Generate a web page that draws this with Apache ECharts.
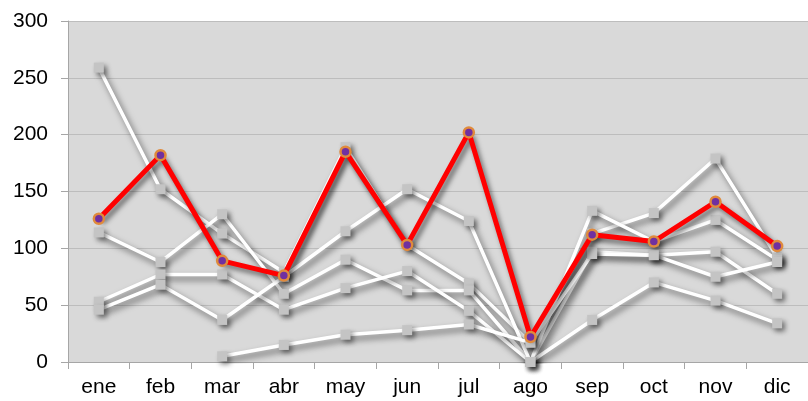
<!DOCTYPE html>
<html>
<head>
<meta charset="utf-8">
<script src="https://cdn.jsdelivr.net/npm/echarts@6/dist/echarts.min.js"></script>
<style>
	html,body{margin:0;padding:0;background:#fff;}
	#chart{width:808px;height:401px;}
</style>
</head>
<body>
<div id="chart"></div>
<script>
var months = ['ene','feb','mar','abr','may','jun','jul','ago','sep','oct','nov','dic'];

// serie destacada (roja)
var mainValues = [126,182,89,76,185,103,202,22,112,106,141,102];

// series de fondo (blancas)
var white1 = [259,152,113,79,189,103,69,17,113,131,179,92];
var white2 = [114,88,130,60,90,63,63,0,97,94,97,60];
var white3 = [53,77,77,46,65,80,45,0,37,70,54,34];
var white4 = [46,68,37,75,115,152,124,0,133,106,125,90];
var white5 = [null,null,5,15,24,28,33,17,95,94,75,88];

var yTicks = [0,50,100,150,200,250,300];

function whiteSerie(values){
	return {
		type:'line',
		data:values,
		symbol:'rect',
		symbolSize:10,
		z:2,
		lineStyle:{
			color:'#ffffff',
			width:3.5,
			shadowColor:'rgba(0,0,0,0.55)',
			shadowBlur:6,
			shadowOffsetX:3,
			shadowOffsetY:4
		},
		itemStyle:{
			color:'#c4c4c4',
			borderWidth:0,
			shadowColor:'rgba(0,0,0,0.45)',
			shadowBlur:5,
			shadowOffsetX:3,
			shadowOffsetY:3
		}
	};
}

var myChart = echarts.init(document.getElementById('chart'));
myChart.setOption({
	animation:false,
	grid:{
		left:68,
		top:21,
		bottom:39,
		right:-15,
		show:true,
		backgroundColor:'#d9d9d9',
		borderWidth:0
	},
	xAxis:{
		type:'category',
		data:months,
		boundaryGap:true,
		axisLine:{lineStyle:{color:'#a6a6a6',width:1}},
		axisTick:{show:true,length:7,lineStyle:{color:'#a6a6a6'}},
		axisLabel:{color:'#000',fontSize:21,fontFamily:'Liberation Sans',margin:15}
	},
	yAxis:{
		type:'value',
		min:yTicks[0],
		max:yTicks[yTicks.length-1],
		interval:50,
		axisLine:{show:true,lineStyle:{color:'#a6a6a6',width:1}},
		axisTick:{show:true,length:7,lineStyle:{color:'#a6a6a6'}},
		axisLabel:{color:'#000',fontSize:21,fontFamily:'Liberation Sans',margin:20},
		splitLine:{lineStyle:{color:'#bdbdbd',width:1}}
	},
	series:[
		whiteSerie(white1),
		whiteSerie(white2),
		whiteSerie(white3),
		whiteSerie(white4),
		whiteSerie(white5),
		{
			type:'line',
			data:mainValues,
			symbol:'circle',
			symbolSize:10,
			z:5,
			lineStyle:{
				color:'#ff0000',
				width:5,
				shadowColor:'rgba(0,0,0,0.5)',
				shadowBlur:5,
				shadowOffsetX:3,
				shadowOffsetY:4
			},
			itemStyle:{
				color:'#7030a0',
				borderColor:'#e08a3c',
				borderWidth:2.5
			}
		}
	]
});
</script>
</body>
</html>
